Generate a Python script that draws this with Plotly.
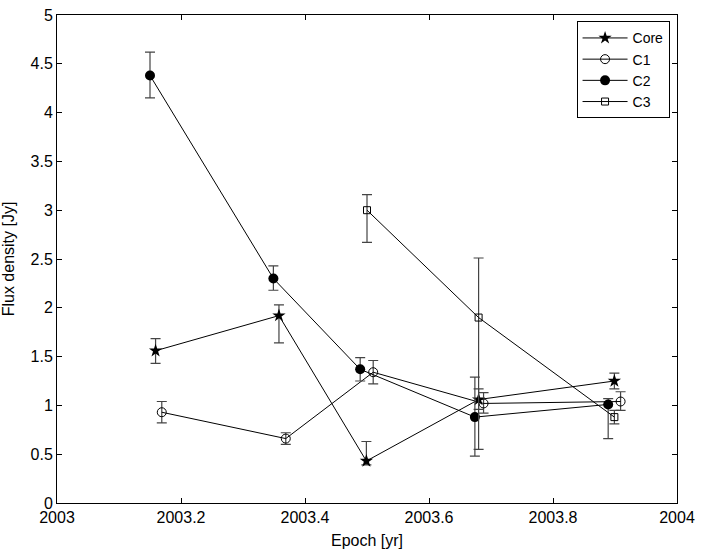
import plotly.graph_objects as go

# epochs [yr] and flux densities [Jy]
core_epoch = [2003.159, 2003.358, 2003.499, 2003.680, 2003.899]
core_flux = [1.56, 1.92, 0.43, 1.06, 1.25]
core_err_hi = [0.125, 0.11, 0.20, 0.11, 0.08]
core_err_lo = [0.13, 0.28, 0.04, 0.10, 0.08]

c1_epoch = [2003.169, 2003.369, 2003.510, 2003.688, 2003.909]
c1_flux = [0.93, 0.66, 1.34, 1.02, 1.04]
c1_err_hi = [0.11, 0.06, 0.12, 0.11, 0.10]
c1_err_lo = [0.11, 0.06, 0.12, 0.10, 0.09]

c2_epoch = [2003.150, 2003.349, 2003.489, 2003.674, 2003.889]
c2_flux = [4.38, 2.30, 1.37, 0.88, 1.01]
c2_err_hi = [0.24, 0.13, 0.12, 0.41, 0.06]
c2_err_lo = [0.23, 0.12, 0.12, 0.40, 0.35]

c3_epoch = [2003.500, 2003.680, 2003.899]
c3_flux = [3.00, 1.90, 0.88]
c3_err_hi = [0.16, 0.61, 0.07]
c3_err_lo = [0.33, 1.35, 0.07]

x_ticks = [2003, 2003.2, 2003.4, 2003.6, 2003.8, 2004]
x_labels = ["2003", "2003.2", "2003.4", "2003.6", "2003.8", "2004"]
y_ticks = [0, 0.5, 1, 1.5, 2, 2.5, 3, 3.5, 4, 4.5, 5]
y_labels = ["0", "0.5", "1", "1.5", "2", "2.5", "3", "3.5", "4", "4.5", "5"]

series = [
    ("Core", core_epoch, core_flux, core_err_hi, core_err_lo,
     dict(symbol="star", size=10, color="black")),
    ("C1", c1_epoch, c1_flux, c1_err_hi, c1_err_lo,
     dict(symbol="circle-open", size=9, color="black", line=dict(width=1))),
    ("C2", c2_epoch, c2_flux, c2_err_hi, c2_err_lo,
     dict(symbol="circle", size=10, color="black")),
    ("C3", c3_epoch, c3_flux, c3_err_hi, c3_err_lo,
     dict(symbol="square-open", size=7, color="black", line=dict(width=1))),
]

fig = go.Figure()
for name, xs, ys, hi, lo, mk in series:
    fig.add_trace(go.Scatter(
        x=xs, y=ys, name=name, mode="lines+markers",
        line=dict(color="black", width=1),
        marker=mk,
        error_y=dict(type="data", symmetric=False, array=hi, arrayminus=lo,
                     color="#444444", thickness=1.2, width=5),
    ))

axis_common = dict(
    showline=True, linecolor="black", linewidth=1, mirror="ticks",
    ticks="inside", ticklen=5, tickcolor="black",
    showgrid=False, zeroline=False, ticklabeloverflow="allow",
    automargin=False,
    tickfont=dict(family="Liberation Sans, Arial", size=16, color="black"),
)

fig.update_layout(
    width=714, height=549,
    margin=dict(l=57, r=37, t=15, b=46),
    paper_bgcolor="white", plot_bgcolor="white",
    font=dict(family="Liberation Sans, Arial", color="black"),
    xaxis=dict(range=[2003, 2004], tickvals=x_ticks, ticktext=x_labels,
               title=dict(text="Epoch [yr]", font=dict(size=16)),
               **axis_common),
    yaxis=dict(range=[0, 5], tickvals=y_ticks, ticktext=y_labels,
               title=dict(text="Flux density [Jy]", font=dict(size=16)),
               **axis_common),
    legend=dict(x=0.988, y=0.987, xanchor="right", yanchor="top",
                bgcolor="white", bordercolor="black", borderwidth=1,
                font=dict(size=14), tracegroupgap=0, itemwidth=45),
    showlegend=True,
)

# drop the default 8px body margin so the figure fills the window exactly
fig.write_html("out.html", config={"displayModeBar": False},
               post_script="document.body.style.margin='0';")
